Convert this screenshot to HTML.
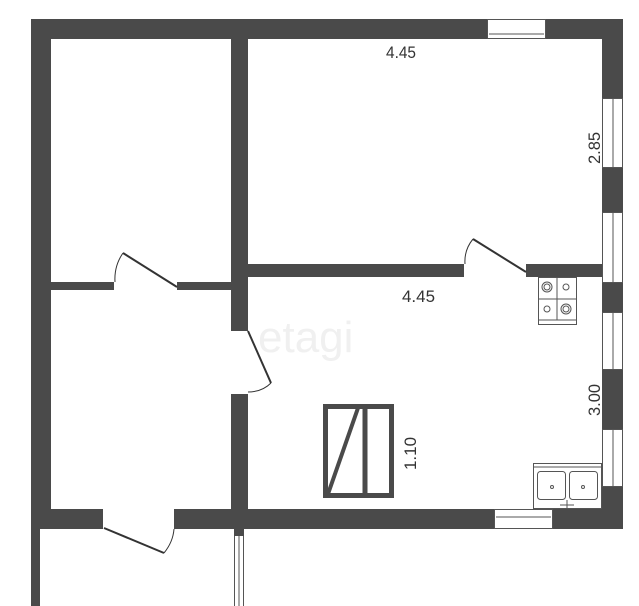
<!DOCTYPE html>
<html><head><meta charset="utf-8"><style>
html,body{margin:0;padding:0;background:#fff;}
svg{display:block}
text{font-family:"Liberation Sans",sans-serif;fill:#333;}
</style></head><body>
<svg width="639" height="606" viewBox="0 0 639 606" xmlns="http://www.w3.org/2000/svg">
<g fill="#4a4a4a">
<!-- top wall -->
<rect x="31" y="19" width="456" height="20"/>
<rect x="546" y="19" width="77" height="20"/>
<!-- left wall -->
<rect x="31" y="19" width="20" height="510"/>
<rect x="31" y="529" width="9" height="77"/>
<!-- right wall -->
<rect x="602" y="19" width="21" height="79"/>
<rect x="602" y="168" width="21" height="44"/>
<rect x="602" y="283" width="21" height="29"/>
<rect x="602" y="370" width="21" height="59"/>
<rect x="602" y="487" width="21" height="42"/>
<!-- inner vertical wall -->
<rect x="231" y="19" width="17" height="312"/>
<rect x="231" y="394" width="17" height="135"/>
<!-- mid horizontal wall -->
<rect x="248" y="264" width="216" height="13"/>
<rect x="526" y="264" width="76" height="13"/>
<!-- left room horizontal -->
<rect x="51" y="282" width="63" height="8"/>
<rect x="177" y="282" width="54" height="8"/>
<!-- bottom wall -->
<rect x="31" y="509" width="72" height="20"/>
<rect x="174" y="509" width="320" height="20"/>
<rect x="553" y="509" width="70" height="20"/>
<rect x="234" y="529" width="10" height="7"/>
</g>
<!-- windows -->
<g fill="none" stroke="#555" stroke-width="1">
<rect x="487.5" y="19.5" width="58" height="19"/>
<line x1="489" y1="34" x2="544" y2="34"/>
<rect x="602.5" y="98.5" width="20" height="69"/>
<line x1="613" y1="98" x2="613" y2="168"/>
<rect x="602.5" y="212.5" width="20" height="70"/>
<line x1="613" y1="212" x2="613" y2="283"/>
<rect x="602.5" y="312.5" width="20" height="57"/>
<line x1="613" y1="312" x2="613" y2="370"/>
<rect x="602.5" y="429.5" width="20" height="57"/>
<line x1="613" y1="429" x2="613" y2="487"/>
<rect x="494.5" y="509.5" width="58" height="19"/>
<line x1="496" y1="517" x2="551" y2="517"/>
<line x1="234.5" y1="536" x2="234.5" y2="606"/>
<line x1="243.5" y1="536" x2="243.5" y2="606"/>
<line x1="239" y1="536" x2="239" y2="606"/>
</g>
<!-- doors -->
<g fill="none" stroke="#333">
<line x1="123" y1="253" x2="177" y2="287" stroke-width="2"/>
<path d="M123 253 Q114 266 115 282" stroke-width="1"/>
<line x1="473" y1="239" x2="526" y2="272" stroke-width="2"/>
<path d="M473 239 Q464 250 465 264" stroke-width="1"/>
<line x1="248" y1="331" x2="271" y2="383" stroke-width="2"/>
<path d="M271 383 Q262 392 248 392" stroke-width="1"/>
<line x1="104" y1="528" x2="164" y2="553" stroke-width="2"/>
<path d="M164 553 Q173 542 174 529" stroke-width="1"/>
</g>
<!-- stove -->
<g fill="none" stroke="#555" stroke-width="1">
<rect x="538.5" y="277.5" width="38" height="47"/>
<line x1="538" y1="299" x2="577" y2="299"/>
<line x1="557" y1="277" x2="557" y2="320"/>
<line x1="538" y1="320" x2="577" y2="320"/>
<circle cx="547" cy="287" r="5"/><circle cx="547" cy="287" r="3"/>
<circle cx="566" cy="287" r="3"/>
<circle cx="547" cy="309" r="3"/>
<circle cx="566" cy="309" r="5"/><circle cx="566" cy="309" r="3"/>
<!-- sink -->
<rect x="533.5" y="463.5" width="68" height="45"/>
<line x1="533" y1="467" x2="602" y2="467"/>
<rect x="537.5" y="471.5" width="28" height="28" rx="3"/>
<rect x="569.5" y="471.5" width="28" height="28" rx="3"/>
<circle cx="552" cy="487" r="1.5"/><circle cx="583" cy="487" r="1.5"/>
<path d="M560 505 h14 M567 500 v8"/>
</g>
<!-- table -->
<g fill="none" stroke="#4a4a4a">
<rect x="325.5" y="406.5" width="66" height="89" stroke-width="5"/>
<line x1="365" y1="406" x2="365" y2="496" stroke-width="5"/>
<line x1="358" y1="408" x2="328" y2="494" stroke-width="4"/>
</g>
<!-- watermark -->
<text x="258" y="352" font-size="44" fill="#f0f0f0" style="fill:#f0f0f0">etagi</text>
<!-- labels -->
<g font-size="17">
<text x="386" y="58" textLength="30" lengthAdjust="spacingAndGlyphs">4.45</text>
<text x="402" y="302" textLength="33" lengthAdjust="spacingAndGlyphs">4.45</text>
<text transform="translate(600,164) rotate(-90)" textLength="32" lengthAdjust="spacingAndGlyphs">2.85</text>
<text transform="translate(600,416) rotate(-90)" textLength="32" lengthAdjust="spacingAndGlyphs">3.00</text>
<text transform="translate(416,470) rotate(-90)" textLength="33" lengthAdjust="spacingAndGlyphs">1.10</text>
</g>
</svg>
</body></html>
